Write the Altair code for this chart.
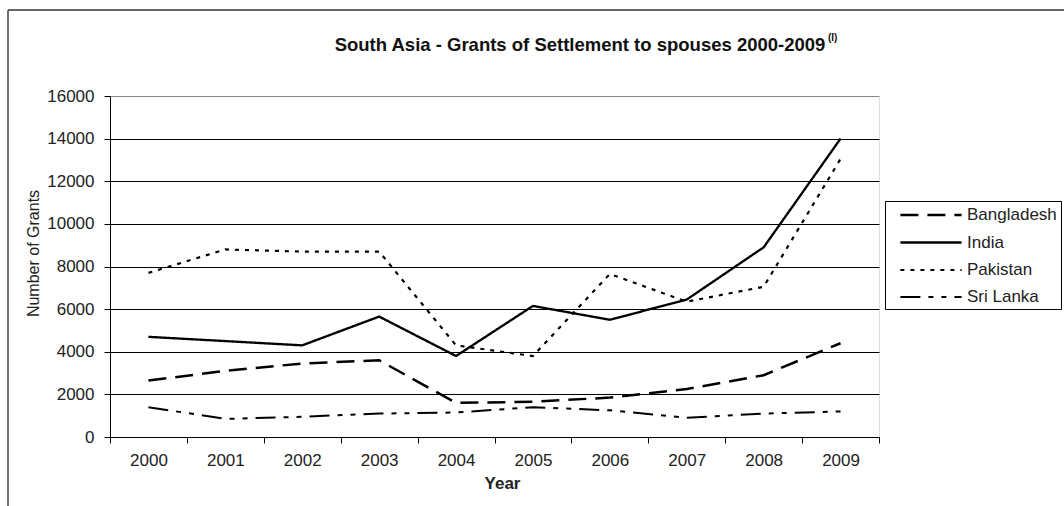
import altair as alt
import pandas as pd

years = ["2000", "2001", "2002", "2003", "2004", "2005", "2006", "2007", "2008", "2009"]
countries = ["Bangladesh", "India", "Pakistan", "Sri Lanka"]
bangladesh = [2650, 3100, 3450, 3600, 1600, 1650, 1850, 2250, 2900, 4400]
india = [4700, 4500, 4300, 5650, 3800, 6150, 5500, 6450, 8900, 14000]
pakistan = [7700, 8800, 8700, 8700, 4300, 3800, 7650, 6350, 7050, 13050]
sri_lanka = [1400, 850, 950, 1100, 1150, 1400, 1250, 900, 1100, 1200]
y_ticks = [0, 2000, 4000, 6000, 8000, 10000, 12000, 14000, 16000]
title_text = "South Asia - Grants of Settlement to spouses 2000-2009"
title_sup = "(I)"

series = {"Bangladesh": bangladesh, "India": india, "Pakistan": pakistan, "Sri Lanka": sri_lanka}
rows = []
for c in countries:
    for yr, v in zip(years, series[c]):
        rows.append({"Year": yr, "Country": c, "Grants": v})
df = pd.DataFrame(rows)

FONT = "Liberation Sans"
W, H = 769, 341
LEFT, TOP = 110, 96

dashes = [[18, 9], [1, 0], [4, 6], [20, 8, 5, 8, 5, 8]]
widths = [2.5, 2, 2.8, 2.8]

lines = alt.Chart(df).mark_line(color="black").encode(
    x=alt.X("Year:O", sort=years, title="Year",
            scale=alt.Scale(paddingInner=0, paddingOuter=0),
            axis=alt.Axis(labelAngle=0, tickBand="extent", labelFontSize=17, labelFont=FONT,
                          labelColor="#222", labelPadding=9, tickSize=6, tickColor="black",
                          domainColor="black", titleFont=FONT, titleFontSize=17,
                          titleFontWeight="bold", titleColor="#222", titleX=392, titleY=46,
                          titleBaseline="middle")),
    y=alt.Y("Grants:Q", title="Number of Grants",
            scale=alt.Scale(domain=[0, 16000], nice=False),
            axis=alt.Axis(values=y_ticks, format="d", labelFontSize=17, labelFont=FONT,
                          labelColor="#222", labelPadding=10, tickSize=6, tickColor="black",
                          domainColor="black",
                          gridColor={"condition": {"test": "datum.value >= 16000", "value": "#888"},
                                     "value": "black"},
                          gridWidth=1, titleFont=FONT, titleFontSize=16, titleFontWeight="normal",
                          titleColor="#222", titleX=-77, titleY=157, titleAngle=-90,
                          titleAlign="center", titleBaseline="middle")),
    strokeDash=alt.StrokeDash("Country:N", scale=alt.Scale(domain=countries, range=dashes),
                              legend=alt.Legend(orient="none", legendX=775, legendY=105, title=None,
                                                symbolType="M-3.6,0H3.6", symbolSize=289,
                                                symbolStrokeWidth=2.5, symbolStrokeColor="black",
                                                labelFontSize=17, labelFont=FONT, labelColor="#222",
                                                strokeColor="black", fillColor="white", padding=4,
                                                rowPadding=9.5, symbolOffset=32, labelOffset=26)),
    strokeWidth=alt.StrokeWidth("Country:N", scale=alt.Scale(domain=countries, range=widths),
                                legend=None),
)

title_df = pd.DataFrame({"t": [title_text]})
title = alt.Chart(title_df).mark_text(font=FONT, fontSize=18.5, fontWeight="bold", color="#111",
                                      align="center", baseline="middle").encode(
    text="t:N", x=alt.value(470), y=alt.value(-51))
sup_df = pd.DataFrame({"t": [title_sup]})
sup = alt.Chart(sup_df).mark_text(font=FONT, fontSize=10, fontWeight="bold", color="#111",
                                  align="left", baseline="middle").encode(
    text="t:N", x=alt.value(718), y=alt.value(-58))

frame_df = pd.DataFrame({"a": [0]})
top_rule = alt.Chart(frame_df).mark_rule(color="#666", strokeWidth=2).encode(
    x=alt.value(8 - LEFT), x2=alt.value(1064 - LEFT), y=alt.value(10 - TOP))
left_rule = alt.Chart(frame_df).mark_rule(color="#444", strokeWidth=1.5).encode(
    x=alt.value(8 - LEFT), y=alt.value(10 - TOP), y2=alt.value(506 - TOP))

chart = alt.layer(lines, title, sup, top_rule, left_rule).properties(
    width=W, height=H,
    autosize=alt.AutoSizeParams(type="none"),
    padding={"left": LEFT, "top": TOP, "right": 1064 - LEFT - W, "bottom": 506 - TOP - H},
).configure_view(stroke="#888", strokeWidth=1).configure(background="white")

chart.save("out.html", embed_options={"renderer": "svg", "actions": False})
